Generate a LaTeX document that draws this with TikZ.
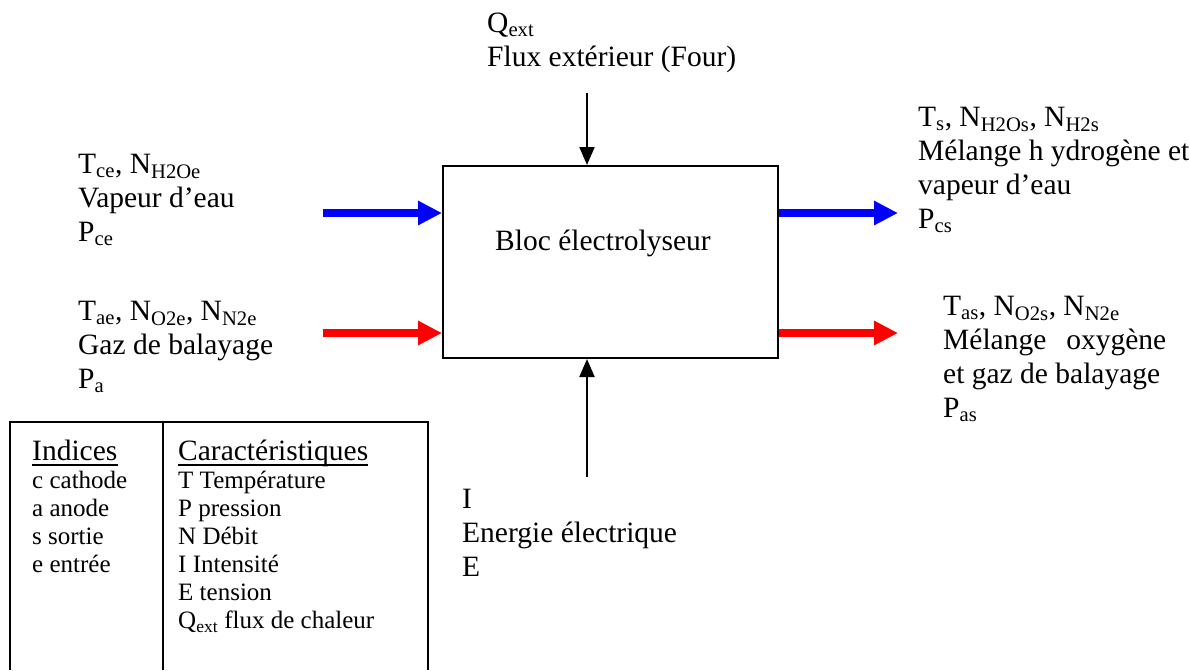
\documentclass[tikz,border=0pt]{standalone}
\usepackage{fontspec}
\setmainfont{Liberation Serif}
\usetikzlibrary{arrows.meta,positioning}

\begin{document}
\begin{tikzpicture}[x=1pt,y=-1pt,line join=miter,
		>={Triangle[length=18pt,width=15pt]},
		texte/.style={anchor=north west,inner sep=0pt,align=left,font=\fontsize{29.5}{34}\selectfont,execute at begin node=\strut},
		legende/.style={anchor=north west,inner sep=0pt,align=left,font=\fontsize{25}{28}\selectfont,execute at begin node=\strut},
		titre/.style={anchor=base west,inner sep=0pt,font=\fontsize{29.5}{34}\selectfont},
		flux/.style={line width=8pt,-{Triangle[length=24pt,width=23pt]}},
		fil/.style={line width=2pt,->}]
		\useasboundingbox (0,0) rectangle (1189,670);
		% bloc central
		\node[draw,line width=2pt,minimum width=335pt,minimum height=192pt,inner sep=0pt] (bloc) at (610.5,262) {};
		\node[titre] (blocnom) at (495,250) {Bloc électrolyseur};
		% flux exterieur et energie electrique
		\coordinate (four) at (587,93);
		\coordinate (elec) at (587,477);
		\draw[fil] (four) -- (four |- bloc.north);
		\draw[fil] (elec) -- (elec |- bloc.south);
		\node[texte] (qext) at (487,13.2) {Q\textsubscript{ext}\\Flux extérieur (Four)};
		\node[texte] (energie) at (462,489.2) {I\\Energie électrique\\E};
		% entrees et sorties
		\coordinate (ce) at (323,213);
		\coordinate (cs) at (898,213);
		\coordinate (ae) at (323,333);
		\coordinate (as) at (898,333);
		\draw[flux,blue] (ce) -- (ce -| bloc.west);
		\draw[flux,blue] (cs -| bloc.east) -- (cs);
		\draw[flux,red] (ae) -- (ae -| bloc.west);
		\draw[flux,red] (as -| bloc.east) -- (as);
		\node[texte] (cathodeE) at (78,154.2) {T\textsubscript{ce}, N\textsubscript{H2Oe}\\Vapeur d’eau\\P\textsubscript{ce}};
		\node[texte] (anodeE) at (78,301.2) {T\textsubscript{ae}, N\textsubscript{O2e}, N\textsubscript{N2e}\\Gaz de balayage\\P\textsubscript{a}};
		\node[texte] (cathodeS) at (918,107.2) {T\textsubscript{s}, N\textsubscript{H2Os}, N\textsubscript{H2s}\\Mélange h ydrogène et\\vapeur d’eau\\P\textsubscript{cs}};
		\node[texte] (anodeS) at (943,296.2) {T\textsubscript{as}, N\textsubscript{O2s}, N\textsubscript{N2e}\\Mélange\hspace{20pt}oxygène\\et gaz de balayage\\P\textsubscript{as}};
		% tableau des notations
		\draw[line width=2pt] (10,670) -- (10,422) -- (428,422) -- (428,670);
		\draw[line width=2pt] (163,422) -- (163,670);
		\node[titre] (indices) at (32,460) {Indices};
		\node[titre] (caract) at (178,460) {Caractéristiques};
		\draw[line width=1.5pt] ([yshift=-5pt]indices.base west) -- ([yshift=-5pt]indices.base east);
		\draw[line width=1.5pt] ([yshift=-5pt]caract.base west) -- ([yshift=-5pt]caract.base east);
		\node[legende] (listeInd) at (32,471.4) {c cathode\\a anode\\s sortie\\e entrée};
		\node[legende] (listeCar) at (178,471.4) {T Température\\P pression\\N Débit\\I Intensité\\E tension\\Q\textsubscript{ext} flux de chaleur};
\end{tikzpicture}
\end{document}
